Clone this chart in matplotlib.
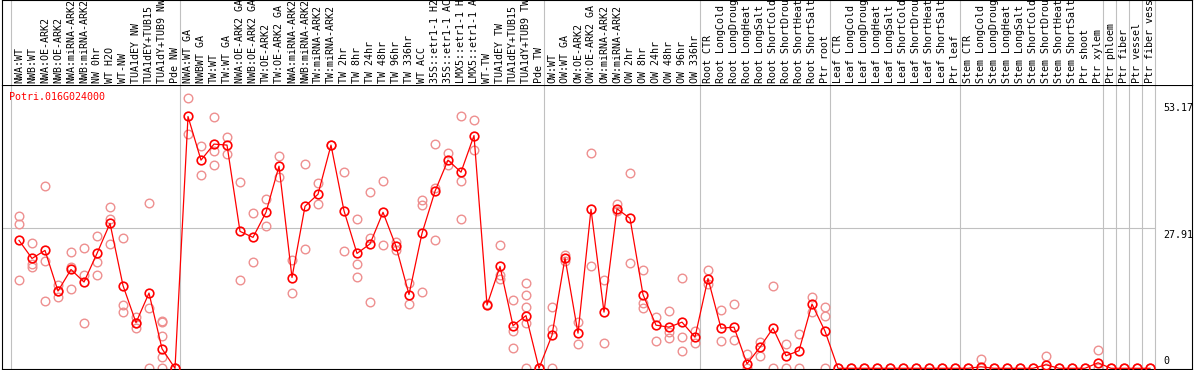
import matplotlib
matplotlib.use("Agg")
import matplotlib.pyplot as plt

gene = "Potri.016G024000"

samples = [
    "NWA:WT", "NWB:WT", "NWA:OE-ARK2", "NWB:OE-ARK2", "NWA:miRNA-ARK2",
    "NWB:miRNA-ARK2", "NW 0hr", "WT H2O", "WT-NW", "TUA1dEY NW",
    "TUA1dEY+TUB15", "TUA1dY+TUB9 NW", "Pde NW",
    "NWA:WT GA", "NWBWT GA", "TW:WT", "TW:WT GA", "NWA:OE-ARK2 GA",
    "NWB:OE-ARK2 GA", "TW:OE-ARK2", "TW:OE-ARK2 GA", "NWA:miRNA-ARK2",
    "NWB:miRNA-ARK2", "TW:miRNA-ARK2", "TW:miRNA-ARK2", "TW 2hr", "TW 8hr",
    "TW 24hr", "TW 48hr", "TW 96hr", "TW 336hr", "WT ACC", "35S::etr1-1 H2",
    "35S::etr1-1 AC", "LMX5::etr1-1 H", "LMX5::etr1-1 A", "WT-TW",
    "TUA1dEY TW", "TUA1dEY+TUB15", "TUA1dY+TUB9 TW", "Pde TW",
    "OW:WT", "OW:WT GA", "OW:OE-ARK2", "OW:OE-ARK2 GA", "OW:miRNA-ARK2",
    "OW:miRNA-ARK2", "OW 2hr", "OW 8hr", "OW 24hr", "OW 48hr", "OW 96hr",
    "OW 336hr",
    "Root CTR", "Root LongCold", "Root LongDroug", "Root LongHeat",
    "Root LongSalt", "Root ShortCold", "Root ShortDrou", "Root ShortHeat",
    "Root ShortSalt", "Ptr root",
    "Leaf CTR", "Leaf LongCold", "Leaf LongDroug", "Leaf LongHeat",
    "Leaf LongSalt", "Leaf ShortCold", "Leaf ShortDrou", "Leaf ShortHeat",
    "Leaf ShortSalt", "Ptr leaf",
    "Stem CTR", "Stem LongCold", "Stem LongDroug", "Stem LongHeat",
    "Stem LongSalt", "Stem ShortCold", "Stem ShortDrou", "Stem ShortHeat",
    "Stem ShortSalt", "Ptr shoot", "Ptr xylem",
    "Ptr phloem", "Ptr fiber", "Ptr vessel", "Ptr fiber vess",
]

# first sample index of each group
group_starts = [0, 13, 41, 53, 63, 73, 84, 85, 86, 87, 88]

means = [
    25.5, 21.9, 23.5, 15.4, 19.7, 17.2, 22.9, 28.9, 16.5, 9.1, 15.0, 3.9, 0,
    50.2, 41.5, 44.7, 44.5, 27.3, 26.1, 31.1, 40.3, 18.1, 32.3, 34.7, 44.5,
    31.4, 22.9, 24.8, 31.1, 24.3, 14.7, 26.9, 35.3, 41.5, 39.1, 46.4, 12.6,
    20.3, 8.5, 10.5, 0,
    6.6, 22.0, 7.0, 31.7, 11.2, 31.8, 29.9, 14.7, 8.6, 8.2, 9.2, 6.2,
    17.9, 8.0, 8.2, 0.9, 4.2, 8.0, 2.5, 3.5, 12.8, 7.4,
    0, 0, 0, 0, 0, 0, 0, 0, 0, 0,
    0, 0.3, 0, 0, 0, 0, 0.7, 0, 0, 0, 1.1,
    0, 0, 0, 0,
]

replicates = [
    [30.4, 28.7, 17.7], [24.9, 20.7, 20.1], [36.3, 21.3, 13.4],
    [16.7, 15.4, 14.3], [23.1, 20.1, 15.9], [24.0, 18.6, 9.0],
    [26.4, 21.1, 18.6], [32.1, 29.8, 24.8], [25.9, 12.6, 11.2],
    [10.3, 9.1, 8.0], [32.9, 12.0, 0], [9.4, 9.2, 6.4, 2.2, 0], [0, 0],
    [53.8, 46.7], [44.3, 38.5], [50.0, 43.4, 40.5], [46.1, 42.7],
    [37.1, 17.6], [30.9, 21.2], [33.7, 28.3], [42.3, 38.1], [21.5, 15.0],
    [40.7, 23.8], [36.9, 32.8], [44.5], [39.1, 23.4], [29.7, 20.7, 18.3],
    [35.1, 26.0, 13.2], [37.3, 24.5], [25.2, 23.6], [17.0, 12.8],
    [33.6, 32.5, 15.2], [44.7, 35.9, 25.5], [42.9, 40.5],
    [50.2, 37.3, 29.7], [49.6, 43.5], [12.8], [24.5, 18.7, 17.9],
    [13.6, 7.4, 4.0], [17.1, 14.7, 12.3, 9.0, 0], [0],
    [12.2, 7.8, 0], [22.6, 21.3], [9.2, 4.8], [42.9, 20.3], [17.6, 5.0],
    [32.7, 31.4], [38.9, 20.9], [19.6, 13.0, 12.0], [10.3, 5.4],
    [11.4, 7.3, 6.0], [18.0, 6.2, 3.4], [7.4, 5.0],
    [19.6, 16.9], [11.6, 5.4], [12.8, 5.6], [2.9, 0], [5.3, 2.5],
    [16.5, 0], [4.8, 0], [6.8, 0], [14.2, 11.3], [12.2, 10.4, 0],
    [0], [0], [0], [0], [0], [0], [0], [0], [0], [0],
    [0], [1.9, 0], [0], [0], [0], [0], [2.5, 0], [0], [0], [0], [3.6, 0],
    [0], [0], [0], [0],
]

y_ticks = [53.17, 27.91, 0]

mono = "DejaVu Sans Mono"
fs = 7.2
W, H = 1194, 370
fig = plt.figure(figsize=(W / 100, H / 100), dpi=100)

# pixel layout -> data: sample k centred at px 19 + 13k
x0 = (1.5 - 19) / 13
x1 = (1192 - 19) / 13
ppu = 5.016  # pixels per unit on y
ymin = -0.7 / ppu
ymax = (285 - 1.7) / ppu

ax = fig.add_axes([1.5 / W, 1 / H, 1190.5 / W, 284 / H])
top = fig.add_axes([1.5 / W, 285 / H, 1190.5 / W, 85 / H])

for a in (ax, top):
    a.set_xlim(x0, x1)
    a.set_xticks([])
    a.set_yticks([])
    for s in a.spines.values():
        s.set_linewidth(0.8)
        s.set_color("black")
    for g in group_starts:
        a.axvline(g - 0.58, color="#c0c0c0", lw=0.8, zorder=0)

top.set_ylim(0, 1)
top.spines["bottom"].set_visible(False)
for k, lab in enumerate(samples):
    top.text(k, 0.025, lab, rotation=90, ha="center", va="bottom",
             family=mono, fontsize=fs, color="black")

ax.set_ylim(ymin, ymax)
ax.hlines(y_ticks[1], x0, group_starts[-1] - 0.58, color="#c0c0c0", lw=0.8, zorder=0)

xs = list(range(len(samples)))
rx, ry = [], []
for k, reps in enumerate(replicates):
    for v in reps:
        rx.append(k)
        ry.append(v)
ax.plot(rx, ry, ls="none", marker="o", ms=6.2, mfc="none",
        mec="#ee8f8f", mew=1.0, zorder=2, clip_on=False)
ax.plot(xs, means, color="red", lw=0.9, zorder=3, clip_on=False)
ax.plot(xs, means, ls="none", marker="o", ms=6.2, mfc="none",
        mec="red", mew=1.2, zorder=4, clip_on=False)

tx = (1163 - 19) / 13
for v in y_ticks[:2]:
    ax.annotate(f"{v:.2f}", (tx, v), xytext=(0, -1.5), textcoords="offset pixels",
                ha="left", va="top", family=mono, fontsize=fs)
ax.annotate("0", (tx, 0), xytext=(0, 2), textcoords="offset pixels",
            ha="left", va="bottom", family=mono, fontsize=fs)

ax.text(7.5 / 1190.5, 1 - 12 / 284, gene, transform=ax.transAxes,
        ha="left", va="center", family=mono, fontsize=fs, color="red")

fig.savefig("out.png", dpi=100)
